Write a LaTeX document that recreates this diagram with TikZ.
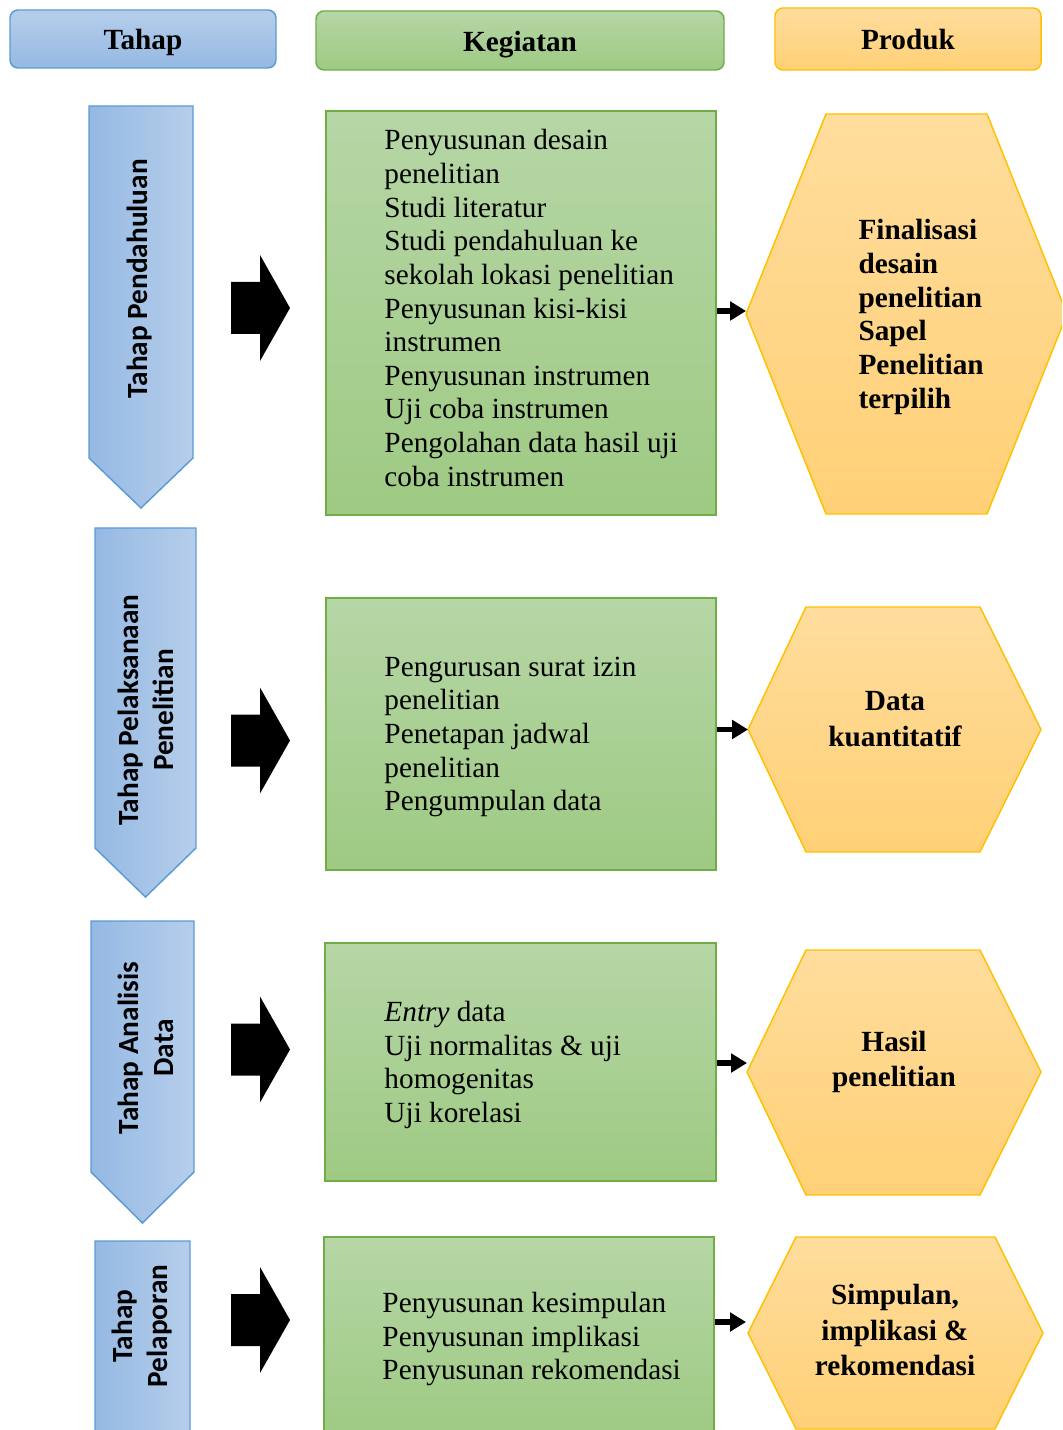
\documentclass[tikz,border=0pt]{standalone}
\usepackage{fontspec}
\setmainfont{Liberation Serif}
\newfontfamily\calibrifont{Carlito}
\usetikzlibrary{arrows.meta}
\definecolor{blueL}{RGB}{182,206,235}
\definecolor{blueD}{RGB}{149,185,227}
\definecolor{blueB}{RGB}{91,155,213}
\definecolor{greenL}{RGB}{182,214,166}
\definecolor{greenD}{RGB}{158,202,131}
\definecolor{greenB}{RGB}{112,173,71}
\definecolor{orangeL}{RGB}{255,221,157}
\definecolor{orangeD}{RGB}{255,208,118}
\definecolor{orangeB}{RGB}{255,192,0}
\newlength\pxunit
\setlength\pxunit{0.41pt}
\tikzset{
  headbox/.style={rounded corners=8\pxunit, line width=0.6pt, inner sep=0pt, text height=9pt, text depth=0pt, font=\fontsize{12}{14}\selectfont\bfseries},
  actbox/.style={draw=greenB, line width=0.6pt, top color=greenL, bottom color=greenD, inner sep=0pt},
  acttext/.style={anchor=west, align=left, inner sep=0pt, font=\fontsize{12}{13.8}\selectfont},
  prodshape/.style={draw=orangeB, line width=0.6pt, top color=orangeL, bottom color=orangeD},
  prodtext/.style={align=center, inner sep=0pt, font=\fontsize{12}{14.6}\selectfont\bfseries},
  stageshape/.style={draw=blueB, line width=0.6pt, left color=blueD, right color=blueL},
  stagetext/.style={rotate=90, align=center, inner sep=0pt, font=\fontsize{12}{14.6}\selectfont\calibrifont\bfseries},
  flow/.style={line width=2.4pt, -{Triangle[length=6.5pt,width=7.5pt]}}
}
\begin{document}
\begin{tikzpicture}[x=\pxunit, y=-\pxunit]
\useasboundingbox (0,0) rectangle (1062,1430);
\clip (0,0) rectangle (1062,1430);
\node[headbox, draw=blueB, top color=blueL, bottom color=blueD, minimum width=266\pxunit, minimum height=58\pxunit] (tahap) at (143,39) {Tahap};
\node[headbox, draw=greenB, top color=greenL, bottom color=greenD, minimum width=408\pxunit, minimum height=59\pxunit] (kegiatan) at (520,40.5) {Kegiatan};
\node[headbox, draw=orangeB, top color=orangeL, bottom color=orangeD, minimum width=266\pxunit, minimum height=62\pxunit] (produk) at (908,39) {Produk};
\foreach \xa/\xb/\ya/\yb/\yc in {89/193/106/458/508, 95/196/528/848/897, 91/194/921/1172/1223, 95/190/1241/1500/1550}
  \draw[stageshape] (\xa,\ya) -- (\xb,\ya) -- (\xb,\yb) -- ({(\xa+\xb)/2},\yc) -- (\xa,\yb) -- cycle;
\foreach \c in {308,740.5,1049.5,1320}
  \fill (231,\c-26) -- (260,\c-26) -- (260,\c-53) -- (290,\c) -- (260,\c+53) -- (260,\c+26) -- (231,\c+26) -- cycle;
\node[stagetext] (stage1) at (140,279) {Tahap Pendahuluan};
\node[stagetext] (stage2) at (146,710) {Tahap Pelaksanaan\\Penelitian};
\node[stagetext] (stage3) at (146,1048) {Tahap Analisis\\Data};
\node[stagetext] (stage4) at (142,1326) {Tahap\\Pelaporan};
\node[actbox, minimum width=390\pxunit, minimum height=404\pxunit] (act1) at (521,313) {};
\node[actbox, minimum width=390\pxunit, minimum height=272\pxunit] (act2) at (521,734) {};
\node[actbox, minimum width=391\pxunit, minimum height=238\pxunit] (act3) at (520.5,1062) {};
\node[actbox, minimum width=390\pxunit, minimum height=200\pxunit] (act4) at (519,1337) {};
\node[acttext] (act1txt) at (384,308) {Penyusunan desain\\penelitian\\Studi literatur\\Studi pendahuluan ke\\sekolah lokasi penelitian\\Penyusunan kisi-kisi\\instrumen\\Penyusunan instrumen\\Uji coba instrumen\\Pengolahan data hasil uji\\coba instrumen};
\node[acttext] (act2txt) at (384,737) {Pengurusan surat izin\\penelitian\\Penetapan jadwal\\penelitian\\Pengumpulan data};
\node[acttext] (act3txt) at (384,1065) {\textit{Entry} data\\Uji normalitas \& uji\\homogenitas\\Uji korelasi};
\node[acttext] (act4txt) at (382,1339) {Penyusunan kesimpulan\\Penyusunan implikasi\\Penyusunan rekomendasi};
\draw[prodshape] (826,114) -- (987,114) -- (1067,314) -- (987,514) -- (826,514) -- (746,314) -- cycle;
\draw[prodshape] (806,607) -- (980,607) -- (1041,729.5) -- (980,852) -- (806,852) -- (748,729.5) -- cycle;
\draw[prodshape] (806,950) -- (980,950) -- (1041,1072) -- (980,1195) -- (806,1195) -- (747,1072) -- cycle;
\draw[prodshape] (796,1237) -- (995,1237) -- (1043,1333) -- (995,1429) -- (796,1429) -- (748,1333) -- cycle;
\coordinate (prod1) at (746,311);
\coordinate (prod2) at (748,729.5);
\coordinate (prod3) at (747,1063);
\coordinate (prod4) at (746,1322);
\node[prodtext, align=left, anchor=west, font=\fontsize{12}{13.8}\selectfont\bfseries] (prod1txt) at (858,317) {Finalisasi\\desain\\penelitian\\Sapel\\Penelitian\\terpilih};
\node[prodtext] (prod2txt) at (895,719) {Data\\kuantitatif};
\node[prodtext] (prod3txt) at (894,1062) {Hasil\\penelitian};
\node[prodtext] (prod4txt) at (895,1330) {Simpulan,\\implikasi \&\\rekomendasi};
\draw[flow] (act1.east |- prod1) -- (prod1);
\draw[flow] (act2.east |- prod2) -- (prod2);
\draw[flow] (act3.east |- prod3) -- (prod3);
\draw[flow] (act4.east |- prod4) -- (prod4);
\end{tikzpicture}
\end{document}
